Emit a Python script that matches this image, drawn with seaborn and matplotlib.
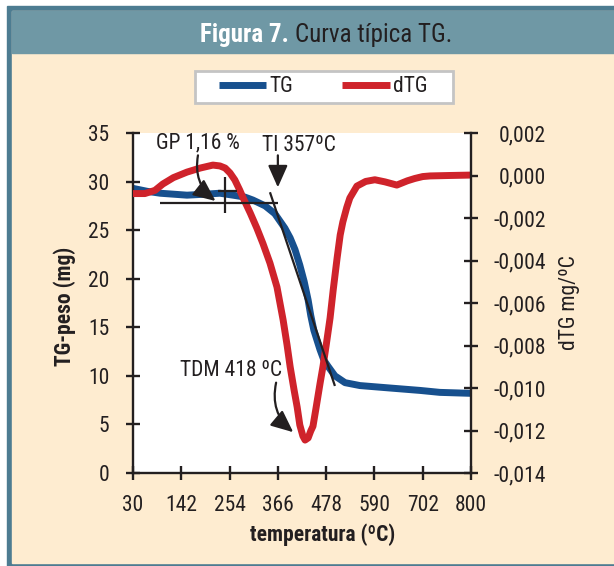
import numpy as np
import pandas as pd
import seaborn as sns
import matplotlib.pyplot as plt
from matplotlib import font_manager
from matplotlib.lines import Line2D
from matplotlib.patches import Rectangle

# TG (mg) vs temperatura
temp_tg = [30, 62, 92, 153, 194, 228, 258, 285, 303, 331, 353, 376, 388, 399,
           410, 420, 429, 435, 442, 456, 465, 474, 490, 513, 547, 615, 684,
           729, 800]
peso_tg = [29.3, 29.0, 28.8, 28.6, 28.7, 28.8, 28.6, 28.4, 28.1, 27.5, 26.7,
           25.2, 24.2, 23.0, 21.4, 19.7, 17.8, 16.2, 14.7, 12.7, 11.6, 11.0,
           10.0, 9.3, 9.0, 8.75, 8.5, 8.3, 8.2]

# dTG (mg/ºC)
temp_dtg = [30, 57, 80, 98, 122, 153, 183, 212, 228, 240, 251, 262, 273, 281,
            297, 312, 326, 342, 358, 372, 381, 388, 397, 404, 410, 417, 422,
            429, 435, 440, 447, 456, 463, 470, 479, 486, 495, 502, 508, 517,
            524, 540, 560, 581, 604, 631, 655, 672, 690, 707, 750, 800]
valor_dtg = [-0.00085, -0.00085, -0.0007, -0.0004, -0.0001, 0.00016, 0.00035,
             0.00049, 0.00045, 0.00035, 0.00012, -0.00021, -0.00068, -0.00106,
             -0.00176, -0.00247, -0.0032, -0.00412, -0.00525, -0.0068,
             -0.00798, -0.0090, -0.0101, -0.0109, -0.01174, -0.01226,
             -0.01245, -0.01235, -0.01202, -0.0118, -0.01094, -0.0098,
             -0.00896, -0.0080, -0.0067, -0.0054, -0.00388, -0.0028, -0.00219,
             -0.0015, -0.00106, -0.0005, -0.00028, -0.0002, -0.0003, -0.00045,
             -0.00025, -0.00014, -0.00005, -0.00002, 0.0, 0.00002]

x_labels = ["30", "142", "254", "366", "478", "590", "702", "800"]
tg_ticks = [0, 5, 10, 15, 20, 25, 30, 35]
dtg_labels = ["-0,014", "-0,012", "-0,010", "-0,008", "-0,006", "-0,004",
              "-0,002", "0,000", "0,002"]

# lineas de construccion (onset) en coordenadas TG
linea_base = ([92, 360], [27.8, 27.8])
cruz_h = ([224, 267], [29.0, 29.0])
cruz_v = ([240, 240], [30.5, 26.8])
tangente = ([342, 490], [28.9, 8.96])

AZUL = "#17508e"
ROJO = "#cf232b"
NEGRO = "#231f20"
CREMA = "#feecd0"
BANDA = "#6f98a5"
BORDE = "#4d7c91"

W, H = 614, 566


def px(x, y):
    return x / W, 1 - y / H


sns.set_style("ticks")
instaladas = {f.name for f in font_manager.fontManager.ttflist}
fuentes = [f for f in ["Roboto Condensed", "Liberation Sans Narrow",
                       "Liberation Sans"] if f in instaladas]
plt.rcParams["font.family"] = fuentes + ["DejaVu Sans"]
TAM = 15.5

fig = plt.figure(figsize=(W / 100, H / 100), dpi=100)
fig.patch.set_facecolor("white")

# marco, banda del titulo y fondo crema
fig.add_artist(Rectangle(px(7, 566), (W - 7) / W, 560 / H,
                         transform=fig.transFigure, color=BORDE, zorder=-3))
fig.add_artist(Rectangle(px(12, 563), (W - 12) / W, 552 / H,
                         transform=fig.transFigure, color=CREMA, zorder=-2))
fig.add_artist(Rectangle(px(12, 53), (W - 12) / W, 42 / H,
                         transform=fig.transFigure, color=BANDA, zorder=-1))
# caja de la leyenda
fig.add_artist(Rectangle(px(195, 103), 258 / W, 32 / H,
                         transform=fig.transFigure, facecolor="white",
                         edgecolor="#c4c4c4", linewidth=2, zorder=1))

fig.text(*px(289, 35), "Figura 7.", ha="right", va="center", fontsize=18,
         fontweight="bold", color="white")
fig.text(*px(295, 35), "Curva típica TG.", ha="left", va="center",
         fontsize=18, color=NEGRO)

ax1 = fig.add_axes([133 / W, 1 - 473 / H, 338 / W, 340 / H])
ax1.set_facecolor("white")
ax2 = ax1.twinx()

sns.lineplot(x=temp_tg, y=peso_tg, ax=ax1, color=AZUL, linewidth=5,
             sort=False, estimator=None, solid_joinstyle="round")
sns.lineplot(x=temp_dtg, y=valor_dtg, ax=ax2, color=ROJO, linewidth=5,
             sort=False, estimator=None, solid_joinstyle="round")

# lineas del metodo de onset, encima de las curvas
for xs, ys in [linea_base, cruz_h, cruz_v, tangente]:
    ax2.plot(xs, ys, color=NEGRO, lw=1.6, transform=ax1.transData,
             solid_capstyle="butt")

flecha = dict(arrowstyle="-|>,head_length=0.9,head_width=0.4", color=NEGRO,
              lw=1.6, mutation_scale=15, shrinkA=0, shrinkB=0)
ax2.annotate("", xy=(218, 28.0), xycoords=ax1.transData,
             xytext=(178, 32.7), textcoords=ax1.transData,
             arrowprops=dict(flecha, connectionstyle="arc3,rad=0.3"))
ax2.annotate("", xy=(360, 29.4), xycoords=ax1.transData,
             xytext=(360, 32.7), textcoords=ax1.transData,
             arrowprops=flecha)
ax2.annotate("", xy=(395, 4.2), xycoords=ax1.transData,
             xytext=(356, 9.3), textcoords=ax1.transData,
             arrowprops=dict(flecha, connectionstyle="arc3,rad=0.3"))

ax2.text(178, 34.0, "GP 1,16 %", transform=ax1.transData, ha="center",
         va="center", fontsize=TAM, color=NEGRO)
ax2.text(408, 33.7, "TI 357ºC", transform=ax1.transData, ha="center",
         va="center", fontsize=TAM, color=NEGRO)
ax2.text(253, 10.6, "TDM 418 ºC", transform=ax1.transData, ha="center",
         va="center", fontsize=TAM, color=NEGRO)

ax1.set_xlim(30, 800)
ax1.set_ylim(0, 35)
ax2.set_ylim(-0.014, 0.002)
ax1.set_xticks(np.linspace(30, 800, len(x_labels)))
ax1.set_xticklabels(x_labels)
ax1.set_yticks(tg_ticks)
ax1.set_yticklabels([str(v) for v in tg_ticks])
ax2.set_yticks(np.linspace(-0.014, 0.002, len(dtg_labels)))
ax2.set_yticklabels(dtg_labels, ha="right")
ax1.set_xlabel("")
ax1.set_ylabel("")
ax2.set_ylabel("")

for ax in (ax1, ax2):
    ax.spines["top"].set_visible(False)
    for s in ax.spines.values():
        s.set_linewidth(1.7)
        s.set_color(NEGRO)
    ax.tick_params(direction="inout", length=10, width=1.7, colors=NEGRO,
                   labelsize=TAM, labelcolor=NEGRO)
ax1.spines["right"].set_visible(False)
ax2.spines["left"].set_visible(False)
ax2.spines["bottom"].set_visible(False)
ax1.tick_params(axis="y", pad=12)
ax1.tick_params(axis="x", pad=11)
ax2.tick_params(axis="y", pad=49)

fig.text(*px(65, 306), "TG-peso (mg)", rotation=90, ha="center",
         va="center", fontsize=TAM, fontweight="bold", color=NEGRO)
fig.text(*px(569, 303), "dTG mg/ºC", rotation=90, ha="center", va="center",
         fontsize=TAM, color=NEGRO)
fig.text(*px(323, 535), "temperatura (ºC)", ha="center", va="center",
         fontsize=TAM, fontweight="bold", color=NEGRO)

handles = [Line2D([], [], color=AZUL, lw=5, solid_capstyle="butt"),
           Line2D([], [], color=ROJO, lw=5, solid_capstyle="butt")]
leg = fig.legend(handles, ["TG", "dTG"], loc="center",
                 bbox_to_anchor=px(323, 87), ncol=2, frameon=False,
                 handlelength=2.2, handletextpad=0.15, columnspacing=2.3,
                 fontsize=TAM)
leg.set_zorder(2)
for t in leg.get_texts():
    t.set_color(NEGRO)

fig.savefig("out.png", dpi=100)
